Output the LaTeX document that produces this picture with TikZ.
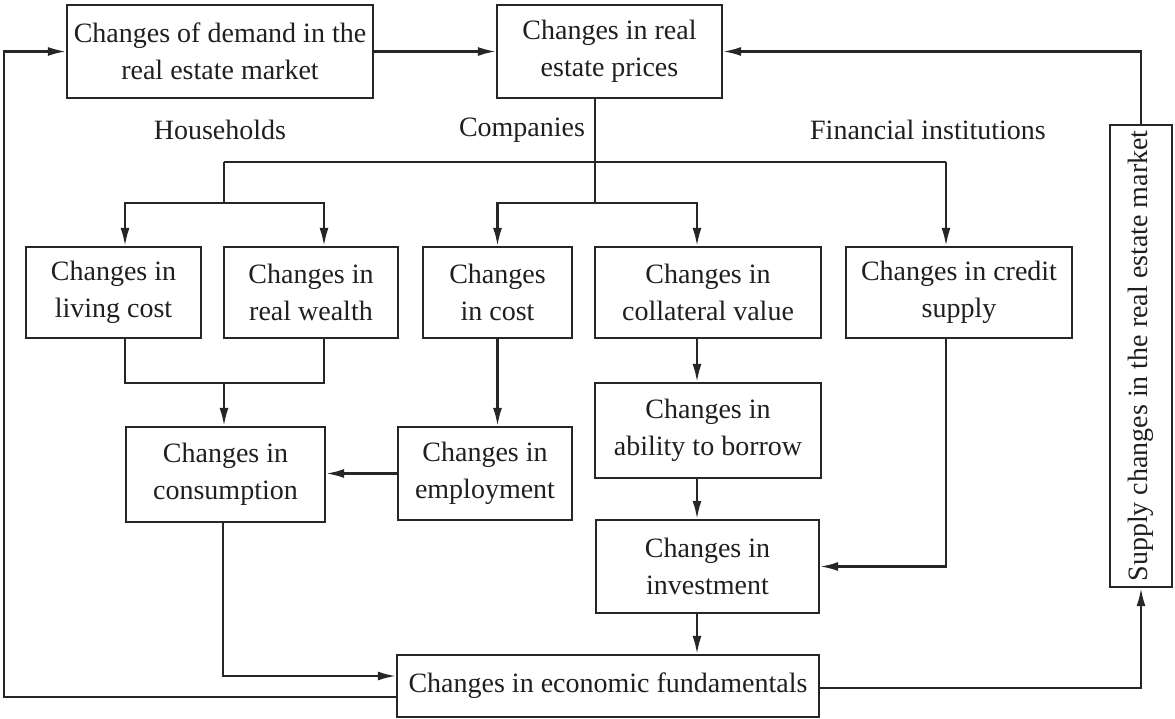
\documentclass[tikz,border=0pt]{standalone}
\usepackage{fontspec}
\setmainfont{Liberation Serif}
\newfontfamily\diagfont{Liberation Serif}
\usetikzlibrary{arrows.meta}
\begin{document}
\begin{tikzpicture}[x=1pt,y=-1pt,
  box/.style={draw=black!85, line width=2.2pt, inner sep=0pt, align=center, text=black!88,
    font=\diagfont\fontsize{28}{37}\selectfont},
  lbl/.style={inner sep=0pt, text=black!88, font=\diagfont\fontsize{28}{37}\selectfont},
  conn/.style={draw=black!85, line width=2.2pt},
  arr/.style={conn, -{Latex[length=18pt,width=9pt]}}]
\useasboundingbox (0,0) rectangle (1175,719);
% boxes
\node[box, minimum width=306pt, minimum height=93pt] (demand) at (220,51.5) {Changes of demand in the\\real estate market};
\node[box, minimum width=225pt, minimum height=93pt] (prices) at (609.5,51.5) {Changes in real\\estate prices};
\node[box, minimum width=175pt, minimum height=91pt] (living) at (113.5,292.5) {Changes in\\living cost};
\node[box, minimum width=174pt, minimum height=91pt] (wealth) at (311,292.5) {Changes in\\real wealth};
\node[box, minimum width=149pt, minimum height=91pt] (cost) at (497.5,292.5) {Changes\\in cost};
\node[box, minimum width=226pt, minimum height=91pt] (collateral) at (708,292.5) {Changes in\\collateral value};
\node[box, minimum width=226pt, minimum height=91pt] (credit) at (959,292.5) {Changes in credit\\supply};
\node[box, minimum width=62pt, minimum height=462pt] (supply) at (1141,356) {};
\node[lbl, rotate=90] (supplytext) at (supply.center) {Supply changes in the real estate market};
\node[box, minimum width=199pt, minimum height=95pt] (consumption) at (225.5,474.5) {Changes in\\consumption};
\node[box, minimum width=174pt, minimum height=93pt] (employment) at (485,473.5) {Changes in\\employment};
\node[box, minimum width=226pt, minimum height=95pt] (borrow) at (708,430.5) {Changes in\\ability to borrow};
\node[box, minimum width=223pt, minimum height=93pt] (investment) at (707.5,566.5) {Changes in\\investment};
\node[box, minimum width=422pt, minimum height=62pt] (fundamentals) at (608,686) {Changes in economic fundamentals};
% labels
\node[lbl] (households) at (220,130) {Households};
\node[lbl] (companies) at (522,130) {Companies};
\node[lbl] (financial) at (928,130) {Financial institutions};
% helper coordinates
\coordinate (hl) at (224,162);
\coordinate (hr) at (946,162);
\coordinate (hj) at (224,203);
\coordinate (cj) at (595,203);
\coordinate (mj) at (224,383);
\coordinate (vx) at (697,0);
% connectors
\draw[arr] (demand.east) -- (prices.west);
\draw[arr] (supply.north) |- (prices.east);
\draw[arr] ([yshift=-11pt]fundamentals.west) -- ++(-392,0) |- (demand.west);
\draw[arr] ([yshift=-2pt]fundamentals.east) -| (supply.south);
\draw[conn] ([xshift=-14.5pt]prices.south) -- (cj);
\draw[conn] (hl) -- (hr);
\draw[conn] (hl) -- (hj);
\draw[arr] (hj) -| ([xshift=11.5pt]living.north);
\draw[arr] (hj) -| ([xshift=13pt]wealth.north);
\draw[arr] (cj) -| (cost.north);
\draw[arr] (cj) -| ([xshift=-11pt]collateral.north);
\draw[arr] (hr) -- (credit.north -| hr);
\draw[conn] ([xshift=11.5pt]living.south) |- (mj) -| ([xshift=13pt]wealth.south);
\draw[arr] (mj) -- (consumption.north -| mj);
\draw[arr] (cost.south) -- (employment.north -| cost.south);
\draw[arr] (employment.west) -- (employment.west -| consumption.east);
\draw[arr] (collateral.south -| vx) -- (borrow.north -| vx);
\draw[arr] (borrow.south -| vx) -- (investment.north -| vx);
\draw[arr] (investment.south -| vx) -- (fundamentals.north -| vx);
\draw[arr] (credit.south -| hr) |- (investment.east);
\draw[arr] ([xshift=-2.5pt]consumption.south) |- ([yshift=10pt]fundamentals.west);
\end{tikzpicture}
\end{document}
